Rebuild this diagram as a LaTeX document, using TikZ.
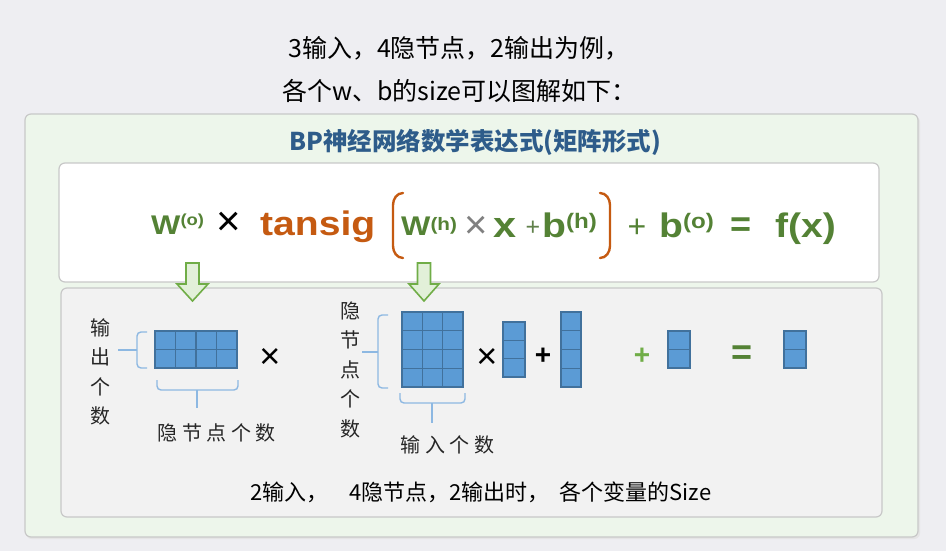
\documentclass[tikz,border=0pt]{standalone}
\usepackage{fontspec}
\setmainfont{Liberation Sans}
\newfontfamily\cjk{Noto Sans CJK SC}
\definecolor{bggrey}{HTML}{EEEEF2}
\definecolor{panelgreen}{HTML}{EDF6EB}
\definecolor{boxline}{HTML}{C8C8C8}
\definecolor{greybox}{HTML}{F2F2F2}
\definecolor{fgreen}{HTML}{548235}
\definecolor{lgreen}{HTML}{70AD47}
\definecolor{arrowfill}{HTML}{E2F0D9}
\definecolor{forange}{HTML}{C55A11}
\definecolor{titleblue}{HTML}{2E5C8A}
\definecolor{cellblue}{HTML}{5B9BD5}
\definecolor{celledge}{HTML}{41719C}
\definecolor{braceblue}{HTML}{8DB8E2}
\newcommand\fx[1]{\scalebox{1.15}[1]{#1}}
\newcommand\fs[1]{\fontsize{#1}{#1}\selectfont}
\newcommand\blockmat[6]{%
  \foreach \ci in {1,...,#3}{\foreach \ri in {1,...,#4}{%
    \draw[cell] ({#1+(\ci-1)*#5},{#2+(\ri-1)*#6}) rectangle ++(#5,#6);}}}
\tikzset{
  panel/.style={draw=boxline, line width=1.2pt, rounded corners=6pt},
  cell/.style={fill=cellblue, draw=celledge, line width=1.1pt},
  brace/.style={draw=braceblue, line width=1.4pt},
  ftext/.style={inner sep=0pt, anchor=base west, font=\bfseries},
  sym/.style={inner sep=0pt},
  lab/.style={inner sep=0pt, font=\cjk\fs{20}, text=black!85},
  downarrow/.style={fill=arrowfill, draw=lgreen, line width=1.6pt, line join=miter},
  paren/.style={draw=forange, line width=2.4pt, line cap=round}
}
\begin{document}
\begin{tikzpicture}[x=1pt,y=-1pt]
\useasboundingbox (0,0) rectangle (946,551);
\fill[bggrey] (0,0) rectangle (946,551);
% top text
\node[inner sep=0pt, anchor=base west, font=\cjk\fs{25}] (l1) at (288,58) {3输入，4隐节点，2输出为例，};
\node[inner sep=0pt, anchor=base west, font=\cjk\fs{25}] (l2) at (282,100) {各个w、b的size可以图解如下：};
% panels
\fill[black!10, rounded corners=6pt] (26,116) rectangle (920,539);
\path[panel, fill=panelgreen] (25,114) rectangle (918,537);
\node[inner sep=0pt, anchor=base west, font=\cjk\bfseries\fs{24.5}, text=titleblue] (title) at (289,150) {BP神经网络数学表达式(矩阵形式)};
\path[panel, fill=white] (59,163) rectangle (879,282);
\path[panel, fill=greybox] (61,288) rectangle (882,517);
% formula
\node[ftext, text=fgreen, font=\bfseries\fs{27}] (wo) at (151,234) {\fx{W\raisebox{9pt}{\fs{16}(o)}}};
\node[sym, font=\fs{42}] (times1) at (229,224) {×};
\node[ftext, text=forange, font=\bfseries\fs{34}] (tansig) at (260,235) {\fx{tansig}};
\draw[paren] (403,193) to[out=180,in=90] (393,205) -- (393,246) to[out=-90,in=180] (403,258);
\node[ftext, text=fgreen, font=\bfseries\fs{27}] (wh) at (401,235) {\fx{W\raisebox{5pt}{\fs{18}(h)}}};
\node[sym, font=\fs{40}, text=black!50] (times2) at (476,227) {×};
\node[ftext, text=fgreen, font=\bfseries\fs{36}] (xx) at (493,237) {\fx{x}};
\node[sym, font=\fs{25}, text=fgreen!70!gray] (plus1) at (533,228) {+};
\node[ftext, text=fgreen, font=\bfseries\fs{34}] (bh) at (542,237) {\fx{b\raisebox{9pt}{\fs{21}(h)}}};
\draw[paren] (600,193) to[out=0,in=90] (610,205) -- (610,246) to[out=-90,in=0] (600,258);
\node[sym, font=\fs{32}, text=fgreen] (plus2) at (637,228) {+};
\node[ftext, text=fgreen, font=\bfseries\fs{34}] (bo) at (659,237) {\fx{b\raisebox{9pt}{\fs{21}(o)}}};
\node[sym, font=\bfseries\fs{36}, text=fgreen] (eq1) at (741,227) {=};
\node[ftext, text=fgreen, font=\bfseries\fs{34}] (fx) at (775,237) {\fx{f(x)}};
% down arrows
\path[downarrow] (186,263) -- (199,263) -- (199,284) -- (208,284) -- (192.5,301) -- (177,284) -- (186,284) -- cycle;
\path[downarrow] (417.5,263) -- (430.5,263) -- (430.5,284) -- (439,284) -- (424,301) -- (409,284) -- (417.5,284) -- cycle;
% matrices
\blockmat{155}{331}{4}{2}{20.5}{18.5}
\blockmat{402}{312}{3}{4}{20.33}{18.75}
\blockmat{503}{322}{1}{3}{22}{18.33}
\blockmat{561}{312}{1}{4}{20}{18.75}
\blockmat{668}{331}{1}{2}{22}{18.5}
\blockmat{784}{331}{1}{2}{22}{18.5}
% braces
\draw[brace, rounded corners=4pt] (147,332) -- (137,332) -- (137,368) -- (147,368);
\draw[brace] (137,350) -- (118,350);
\draw[brace, rounded corners=4pt] (157,380) -- (157,390) -- (238,390) -- (238,380);
\draw[brace] (197,390) -- (197,408);
\draw[brace, rounded corners=4pt] (388,315) -- (378,315) -- (378,388) -- (388,388);
\draw[brace] (378,352) -- (362,352);
\draw[brace, rounded corners=4pt] (400,393) -- (400,403) -- (465,403) -- (465,393);
\draw[brace] (432,403) -- (432,423);
% labels
\foreach \c [count=\i] in {输,出,个,数}{\node[lab] (la\i) at (100,{298+\i*29.5}) {\c};}
\foreach \c [count=\i] in {隐,节,点,个,数}{\node[lab] (lb\i) at ({143+\i*24.5},433) {\c};}
\foreach \c [count=\i] in {隐,节,点,个,数}{\node[lab] (lc\i) at (350,{281+\i*29.5}) {\c};}
\foreach \c [count=\i] in {输,入,个,数}{\node[lab] (ld\i) at ({386+\i*24.5},445) {\c};}
% lower symbols
\node[sym, font=\fs{36}] (m1) at (270,358) {×};
\node[sym, font=\fs{36}] (m2) at (487,358) {×};
\node[sym, font=\bfseries\fs{28}] (p1) at (543,356) {+};
\node[sym, font=\bfseries\fs{28}, text=lgreen] (p2) at (642,356) {+};
\node[sym, font=\bfseries\fs{36}, text=fgreen] (e2) at (742,355) {=};
% bottom text
\node[inner sep=0pt, anchor=base west, font=\cjk\fs{22}] (foot) at (250,500) {2输入，\hspace{21pt}4隐节点，2输出时，\hspace{10pt}各个变量的Size};
\end{tikzpicture}
\end{document}
